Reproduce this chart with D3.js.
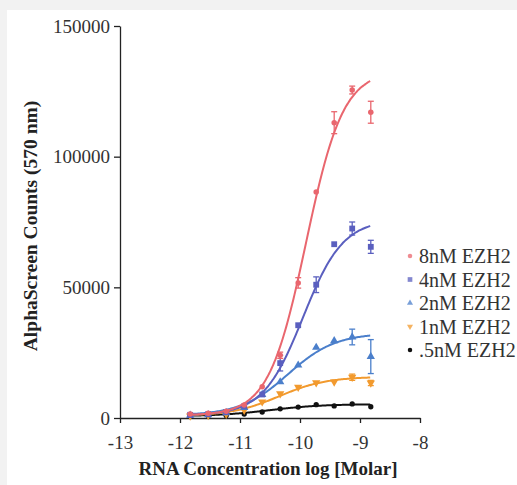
<!DOCTYPE html>
<html>
<head>
<meta charset="utf-8">
<script src="https://cdn.jsdelivr.net/npm/d3@7"></script>
<style>
  html, body { margin: 0; padding: 0; background: #f2f2f2; }
  svg { display: block; font-family: "Liberation Serif", "DejaVu Serif", serif; }
</style>
</head>
<body>
<div id="chart"></div>
<script>
// log10 of RNA concentration (2-fold dilution series)
const logConc = [-11.83, -11.53, -11.23, -10.93, -10.63, -10.33, -10.03, -9.73, -9.43, -9.13, -8.82];

// AlphaScreen counts per EZH2 concentration
const ezh2_8nM  = [1500, 1800, 2600, 5000, 12000, 24000, 51700, 86500, 113000, 125500, 117000];
const ezh2_4nM  = [1200, 1500, 2300, 4500, 9000, 21000, 35500, 51000, 66500, 72500, 65500];
const ezh2_2nM  = [1000, 1200, 2000, 4000, 9000, 13800, 20200, 27000, 29500, 31000, 23500];
const ezh2_1nM  = [800, 1000, 1500, 3000, 6200, 9300, 11800, 13500, 13800, 15600, 13400];
const ezh2_05nM = [800, 900, 1000, 1500, 2300, 3500, 4200, 5100, 4600, 5400, 4300];

// error bars (+/-)
const err_8nM  = [0, 0, 0, 0, 0, 1200, 2000, 0, 4200, 1500, 4200];
const err_4nM  = [0, 0, 0, 0, 0, 3000, 0, 3000, 0, 2500, 2500];
const err_2nM  = [0, 0, 0, 0, 0, 0, 0, 0, 0, 3000, 6500];
const err_1nM  = [0, 0, 0, 0, 0, 0, 0, 0, 0, 1200, 1000];
const err_05nM = [0, 0, 0, 0, 0, 0, 0, 0, 0, 0, 0];

// sigmoid fit parameters (bottom, top, logEC50, hill), one per series
const fitBottom = [1000, 1000, 1000, 800, 700];
const fitTop    = [133000, 76000, 32500, 15800, 5300];
const fitEC50   = [-9.9, -9.95, -10.2, -10.35, -10.5];
const fitHill   = [1.4, 1.3, 1.1, 1.1, 1.0];

const seriesNames = ["8nM EZH2", "4nM EZH2", "2nM EZH2", "1nM EZH2", ".5nM EZH2"];
const seriesValues = [ezh2_8nM, ezh2_4nM, ezh2_2nM, ezh2_1nM, ezh2_05nM];
const seriesErrors = [err_8nM, err_4nM, err_2nM, err_1nM, err_05nM];
const colors = ["#e9666e", "#5a5fbf", "#4b7fcb", "#f29a2e", "#111111"];

const xTicks = [-13, -12, -11, -10, -9, -8];
const yTicks = [0, 50000, 100000, 150000];

const W = 517, H = 485;
const svg = d3.select("#chart").append("svg")
  .attr("width", W).attr("height", H);

svg.append("rect")
  .attr("x", 7).attr("y", 10)
  .attr("width", W - 7).attr("height", H - 10)
  .attr("fill", "#fff");

const x = d3.scaleLinear().domain([-13, -8]).range([120, 420]);
const y = d3.scaleLinear().domain([0, 150000]).range([418, 26]);

// axes
const gx = svg.append("g")
  .attr("transform", `translate(0,${y(0)})`)
  .call(d3.axisBottom(x).tickValues(xTicks).tickFormat(d => String(d))
    .tickSize(5).tickSizeOuter(0).tickPadding(13));

const gy = svg.append("g")
  .attr("transform", `translate(${x(-13)},0)`)
  .call(d3.axisLeft(y).tickValues(yTicks).tickFormat(d => String(d))
    .tickSize(6).tickSizeOuter(0).tickPadding(4));

[gx, gy].forEach(g => {
  g.selectAll("path, line").attr("stroke", "#222").attr("stroke-width", 1.3);
  g.selectAll("text")
    .attr("font-family", "Liberation Serif, serif")
    .attr("font-size", 19)
    .attr("fill", "#333");
});

svg.append("text")
  .attr("x", 268).attr("y", 475)
  .attr("text-anchor", "middle")
  .attr("font-size", 19).attr("font-weight", "bold")
  .attr("fill", "#222")
  .text("RNA Concentration log [Molar]");

svg.append("text")
  .attr("transform", "translate(30,226) rotate(-90)")
  .attr("text-anchor", "middle")
  .attr("dy", "0.35em")
  .attr("font-size", 19.5).attr("font-weight", "bold")
  .attr("fill", "#222")
  .text("AlphaScreen Counts (570 nm)");

const symbols = [
  d3.symbol().type(d3.symbolCircle).size(24),
  d3.symbol().type(d3.symbolSquare).size(34),
  d3.symbol().type(d3.symbolTriangle).size(30),
  d3.symbol().type(d3.symbolTriangle).size(30),
  d3.symbol().type(d3.symbolCircle).size(22)
];
const rotations = [0, 0, 0, 180, 0];

const logistic = (i, lx) =>
  fitBottom[i] + (fitTop[i] - fitBottom[i]) / (1 + Math.pow(10, (fitEC50[i] - lx) * fitHill[i]));

const curveX = d3.range(logConc[0], logConc[logConc.length - 1] + 0.001, 0.02);
const line = d3.line().x(d => x(d[0])).y(d => y(d[1])).curve(d3.curveBasis);

// draw from smallest series up so the 8nM series is on top
for (let i = seriesValues.length - 1; i >= 0; i--) {
  const g = svg.append("g");
  const c = colors[i];

  g.append("path")
    .datum(curveX.map(lx => [lx, logistic(i, lx)]))
    .attr("fill", "none")
    .attr("stroke", c)
    .attr("stroke-width", 2)
    .attr("d", line);

  const pts = logConc.map((lx, j) => ({ lx, v: seriesValues[i][j], e: seriesErrors[i][j] }));

  const eb = g.selectAll(".err").data(pts.filter(d => d.e > 0)).join("g")
    .attr("stroke", c).attr("stroke-width", 1.3);
  eb.append("line")
    .attr("x1", d => x(d.lx)).attr("x2", d => x(d.lx))
    .attr("y1", d => y(d.v - d.e)).attr("y2", d => y(d.v + d.e));
  eb.append("line")
    .attr("x1", d => x(d.lx) - 3).attr("x2", d => x(d.lx) + 3)
    .attr("y1", d => y(d.v + d.e)).attr("y2", d => y(d.v + d.e));
  eb.append("line")
    .attr("x1", d => x(d.lx) - 3).attr("x2", d => x(d.lx) + 3)
    .attr("y1", d => y(d.v - d.e)).attr("y2", d => y(d.v - d.e));

  g.selectAll(".pt").data(pts).join("path")
    .attr("d", symbols[i])
    .attr("transform", d => `translate(${x(d.lx)},${y(d.v)}) rotate(${rotations[i]})`)
    .attr("fill", c);
}

// legend
const legend = svg.append("g");
seriesNames.forEach((name, i) => {
  const ly = 256 + i * 23.5;
  legend.append("path")
    .attr("d", d3.symbol().type(i === 1 ? d3.symbolSquare : (i === 2 || i === 3) ? d3.symbolTriangle : d3.symbolCircle).size(i === 1 ? 22 : 16))
    .attr("transform", `translate(410,${ly}) rotate(${rotations[i]})`)
    .attr("fill", colors[i])
    .attr("opacity", i === 4 ? 1 : 0.75);
  legend.append("text")
    .attr("x", 419).attr("y", ly)
    .attr("dy", "0.35em")
    .attr("font-size", 20)
    .attr("fill", "#333")
    .text(name);
});
</script>
</body>
</html>
